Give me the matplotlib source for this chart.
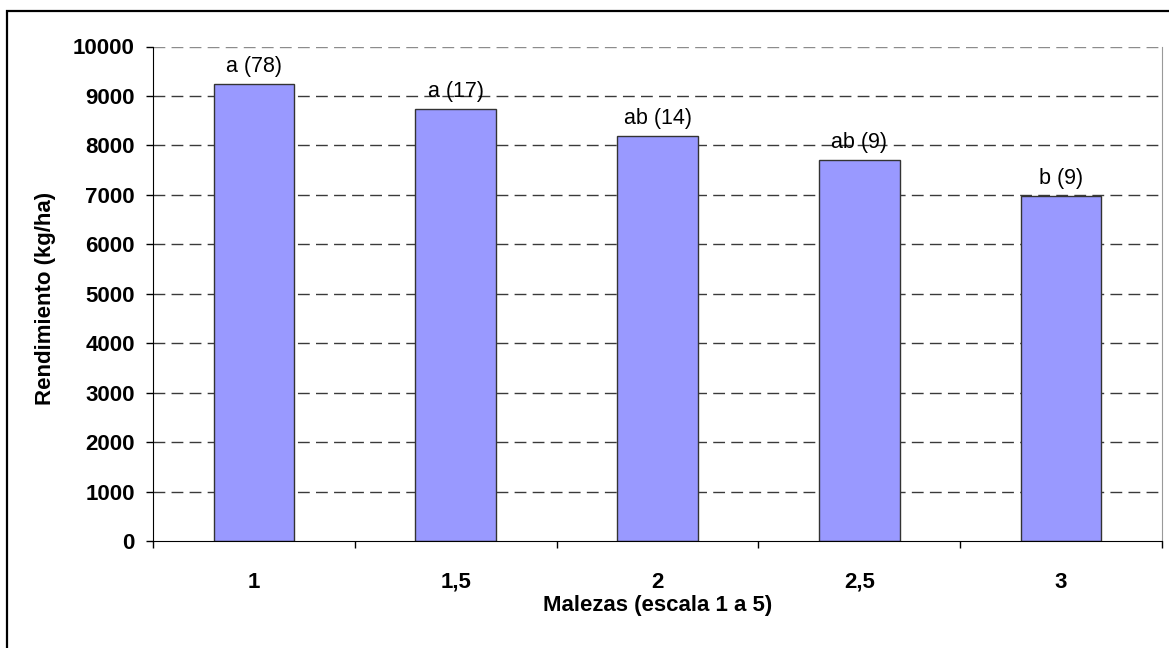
import matplotlib.pyplot as plt
from matplotlib.patches import Rectangle
from matplotlib.ticker import FixedLocator

# values
categorias = ['1', '1,5', '2', '2,5', '3']
rendimiento = [9240, 8730, 8190, 7710, 6970]
etiquetas = ['a (78)', 'a (17)', 'ab (14)', 'ab (9)', 'b (9)']
yticks = list(range(0, 10001, 1000))

plt.rcParams['font.family'] = ['Liberation Sans', 'DejaVu Sans']
FS = 16

fig = plt.figure(figsize=(11.69, 6.48), dpi=100)
ax = fig.add_axes([153 / 1169, 107 / 648, 1009 / 1169, 494.5 / 648])

x = list(range(len(categorias)))
bars = ax.bar(x, rendimiento, width=0.4, color='#9999FF', edgecolor='#333333',
              linewidth=1.0, zorder=3)

# labels above the bars
for b, txt in zip(bars, etiquetas):
    ax.annotate(txt, (b.get_x() + b.get_width() / 2, b.get_height()),
                xytext=(0, 5), textcoords='offset points',
                ha='center', va='bottom', fontsize=FS - 0.5, zorder=4)

ax.set_xlim(-0.5, len(categorias) - 0.5)
ax.set_ylim(0, 10000)
ax.set_yticks(yticks)
ax.set_yticklabels([str(v) for v in yticks], fontsize=FS, fontweight='bold')

# category labels at centres, tick marks between categories
ax.set_xticks(x)
ax.set_xticklabels(categorias, fontsize=FS, fontweight='bold')
ax.xaxis.set_minor_locator(FixedLocator([i - 0.5 for i in range(len(categorias) + 1)]))
ax.tick_params(axis='x', which='major', length=0, pad=22)
ax.tick_params(axis='x', which='minor', length=5, width=1, direction='out', color='black')
ax.tick_params(axis='y', which='major', length=5, width=1, direction='out', pad=8, color='black')

# dashed grid lines
for v in yticks[1:]:
    col = '#8c8c8c' if v == 10000 else '#3a3a3a'
    ax.axhline(v, color=col, linewidth=1.0, dashes=(8.5, 4.5), zorder=1)

ax.spines['top'].set_visible(False)
ax.spines['right'].set_color('#999999')
ax.spines['left'].set_color('black')
ax.spines['bottom'].set_color('black')
ax.spines['bottom'].set_zorder(5)

ax.set_xlabel('Malezas (escala 1 a 5)', fontsize=FS, fontweight='bold')
ax.xaxis.set_label_coords(0.5, -0.13)
ax.xaxis.label.set_va('center')
ax.set_ylabel('Rendimiento (kg/ha)', fontsize=FS, fontweight='bold')
ax.yaxis.set_label_coords(-0.107, 0.49)
ax.yaxis.label.set_va('center')

# outer frame of the chart object
fig.patches.append(Rectangle((7 / 1169, -0.1), 1.2, 1.1 - 11 / 648,
                             transform=fig.transFigure, fill=False,
                             edgecolor='black', linewidth=1.6))

fig.savefig('out.png', dpi=100)
